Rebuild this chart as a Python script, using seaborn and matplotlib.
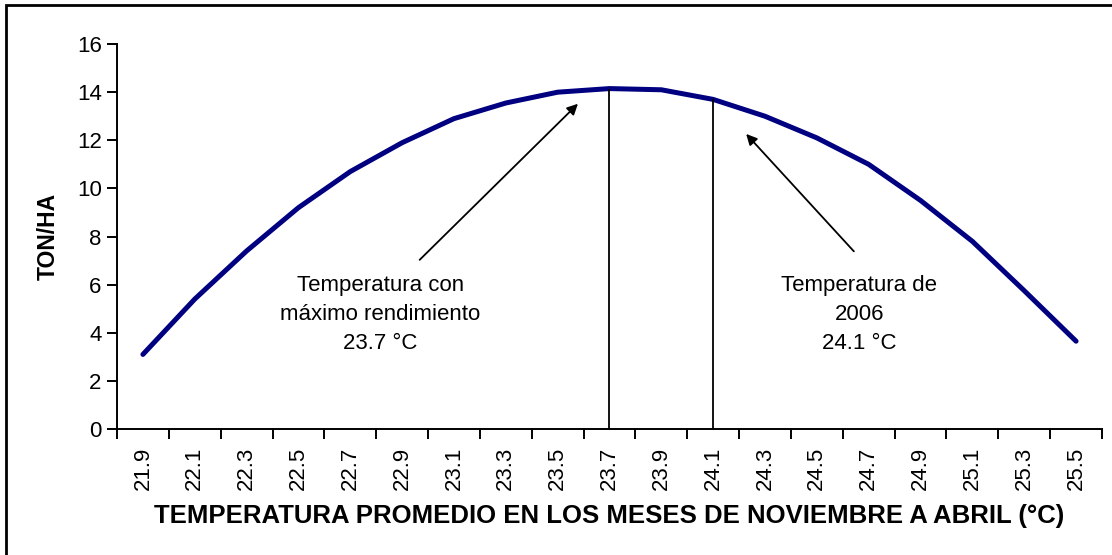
import matplotlib
matplotlib.use("Agg")
import matplotlib.pyplot as plt
import matplotlib.patches as patches
import seaborn as sns
import pandas as pd

temperaturas = ["21.9", "22.1", "22.3", "22.5", "22.7", "22.9", "23.1", "23.3", "23.5", "23.7",
                "23.9", "24.1", "24.3", "24.5", "24.7", "24.9", "25.1", "25.3", "25.5"]
rendimiento = [3.1, 5.4, 7.4, 9.2, 10.7, 11.9, 12.9, 13.55, 14.0, 14.15,
               14.1, 13.7, 13.0, 12.1, 11.0, 9.5, 7.8, 5.75, 3.65]
temp_maxima = "23.7"
temp_2006 = "24.1"

sns.set_style("white", {"text.color": "black", "axes.labelcolor": "black",
                        "xtick.color": "black", "ytick.color": "black"})
plt.rcParams["font.family"] = ["Liberation Sans", "DejaVu Sans"]

df = pd.DataFrame({"temp": temperaturas, "ton": rendimiento})
df["pos"] = range(len(df))

fig = plt.figure(figsize=(11.12, 5.55), dpi=100)
ax = fig.add_axes([0.1052, 0.227, 0.8858, 0.6936])

sns.lineplot(data=df, x="pos", y="ton", color="#000080", linewidth=3.6, sort=False, ax=ax)

# lineas verticales hasta la curva
for t in [temp_maxima, temp_2006]:
    i = temperaturas.index(t)
    ax.vlines(i, 0, rendimiento[i], color="black", linewidth=1.3)

ax.set_xlim(-0.5, len(temperaturas) - 0.5)
ax.set_ylim(0, 16)
ax.set_yticks(range(0, 17, 2))
ax.set_xticks(range(len(temperaturas)))
ax.set_xticklabels(temperaturas, rotation=90)
ax.set_xticks([i - 0.5 for i in range(len(temperaturas) + 1)], minor=True)
ax.tick_params(axis="x", which="major", length=0, pad=13, labelsize=16)
ax.tick_params(axis="x", which="minor", length=7, width=1.4, direction="out", bottom=True)
ax.tick_params(axis="y", length=7, width=1.4, direction="out", left=True, labelsize=16, pad=4)

for s in ["top", "right"]:
    ax.spines[s].set_visible(False)
for s in ["left", "bottom"]:
    ax.spines[s].set_linewidth(1.4)
    ax.spines[s].set_color("black")

ax.set_xlabel("TEMPERATURA PROMEDIO EN LOS MESES DE NOVIEMBRE A ABRIL (°C)",
              fontsize=18.5, fontweight="bold")
ax.xaxis.set_label_coords(0.5, -0.195)
ax.set_ylabel("TON/HA", fontsize=16.5, fontweight="bold")
ax.yaxis.set_label_coords(-0.058, 0.5)

arrow = dict(arrowstyle="-|>", color="black", lw=1.3, mutation_scale=16)
ax.annotate("", xy=(8.43, 13.6), xytext=(5.3, 6.95), arrowprops=arrow)
ax.annotate("", xy=(11.6, 12.35), xytext=(13.75, 7.3), arrowprops=arrow)

ax.text(4.58, 6.4, "Temperatura con\nmáximo rendimiento\n23.7 °C", ha="center", va="top",
        fontsize=16, linespacing=1.5, color="black")
ax.text(13.82, 6.4, "Temperatura de\n2006\n24.1 °C", ha="center", va="top",
        fontsize=16, linespacing=1.5, color="black")

# marco del grafico
fig.patches.append(patches.Rectangle((6 / 1112, -0.1), 1.2, 1.1 - 5 / 555, transform=fig.transFigure,
                                     fill=False, edgecolor="black", linewidth=2))

fig.savefig("out.png", dpi=100)
